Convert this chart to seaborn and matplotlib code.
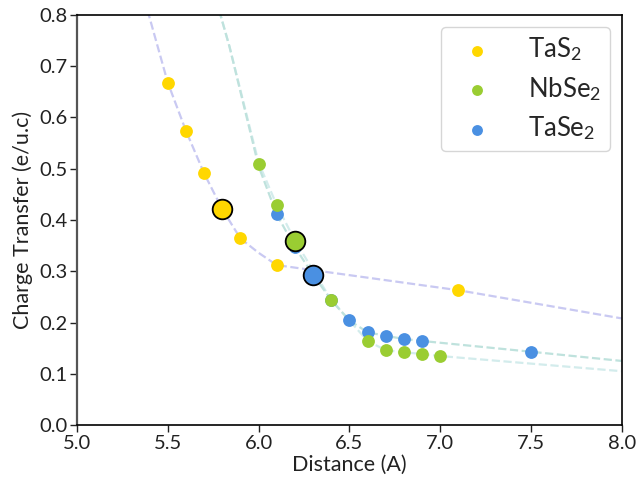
import matplotlib
matplotlib.use("Agg")
import matplotlib.pyplot as plt
import pandas as pd
import seaborn as sns

# ---- data ----
tas2_x = [5.5, 5.6, 5.7, 5.8, 5.9, 6.1, 7.1]
tas2_y = [0.668, 0.574, 0.491, 0.421, 0.364, 0.312, 0.263]
nbse2_x = [6.0, 6.1, 6.2, 6.4, 6.6, 6.7, 6.8, 6.9, 7.0]
nbse2_y = [0.509, 0.429, 0.360, 0.244, 0.164, 0.146, 0.142, 0.1385, 0.1346]
tase2_x = [6.1, 6.2, 6.3, 6.4, 6.5, 6.6, 6.7, 6.8, 6.9, 7.5]
tase2_y = [0.411, 0.347, 0.293, 0.244, 0.204, 0.181, 0.174, 0.168, 0.164, 0.143]

# highlighted points (x positions of the emphasised sample for each material)
hl_tas2_x = 5.8
hl_nbse2_x = 6.2
hl_tase2_x = 6.3

# dashed guide curves
tas2_fit_x = [5.36, 5.5, 5.6, 5.7, 5.8, 5.9, 6.0, 6.1, 7.1, 8.0]
tas2_fit_y = [0.845, 0.668, 0.574, 0.491, 0.421, 0.364, 0.336, 0.312, 0.263, 0.208]
nbse2_fit_x = [5.75, 5.84, 6.0, 6.1, 6.2, 6.4, 6.6, 6.7, 6.8, 6.9, 7.0, 8.0]
nbse2_fit_y = [0.85, 0.738, 0.512, 0.429, 0.360, 0.244, 0.164, 0.146, 0.142, 0.1385, 0.1346, 0.105]
tase2_fit_x = [5.75, 5.84, 6.0, 6.1, 6.2, 6.3, 6.4, 6.5, 6.6, 6.7, 6.8, 6.9, 7.5, 8.0]
tase2_fit_y = [0.85, 0.738, 0.505, 0.411, 0.347, 0.293, 0.244, 0.204, 0.181, 0.174, 0.168, 0.164, 0.143, 0.125]

labels = ["TaS$_2$", "NbSe$_2$", "TaSe$_2$"]
x_ticks = [5.0, 5.5, 6.0, 6.5, 7.0, 7.5, 8.0]
y_ticks = [0.0, 0.1, 0.2, 0.3, 0.4, 0.5, 0.6, 0.7, 0.8]

c_tas2 = "#ffd700"
c_nbse2 = "#9acd32"
c_tase2 = "#4a90e2"

sns.set_style("white")
plt.rcParams["font.family"] = ["Lato", "DejaVu Sans"]
plt.rcParams["mathtext.fontset"] = "custom"
plt.rcParams["mathtext.rm"] = "Lato"
plt.rcParams["mathtext.it"] = "Lato:italic"

fig = plt.figure(figsize=(6.39, 4.79), dpi=100)
ax = fig.add_axes([0.1205, 0.1127, 0.8525, 0.8560])

tas2 = pd.DataFrame({"x": tas2_x, "y": tas2_y})
nbse2 = pd.DataFrame({"x": nbse2_x, "y": nbse2_y})
tase2 = pd.DataFrame({"x": tase2_x, "y": tase2_y})

# guide curves
for fx, fy, col in [(tas2_fit_x, tas2_fit_y, "#c9c9f2"),
                    (nbse2_fit_x, nbse2_fit_y, "#d3ecec"),
                    (tase2_fit_x, tase2_fit_y, "#bfe2dd")]:
    sns.lineplot(x=fx, y=fy, ax=ax, color=col, linestyle="--", lw=1.6,
                 sort=False, estimator=None, zorder=1)

ms = 85
sns.scatterplot(data=tas2, x="x", y="y", ax=ax, color=c_tas2, s=ms, linewidth=0,
                label=labels[0], zorder=3)
sns.scatterplot(data=tase2, x="x", y="y", ax=ax, color=c_tase2, s=ms, linewidth=0,
                label=labels[2], zorder=3)
sns.scatterplot(data=nbse2, x="x", y="y", ax=ax, color=c_nbse2, s=ms, linewidth=0,
                label=labels[1], zorder=3)

big = 200
for df, hx, col in [(tas2, hl_tas2_x, c_tas2), (nbse2, hl_nbse2_x, c_nbse2),
                    (tase2, hl_tase2_x, c_tase2)]:
    sel = df[(df["x"] - hx).abs() < 1e-9]
    sns.scatterplot(data=sel, x="x", y="y", ax=ax, color=col, s=big,
                    edgecolor="black", linewidth=1.3, legend=False, zorder=4)

ax.set_xlim(5.0, 8.0)
ax.set_ylim(0.0, 0.8)
ax.set_xticks(x_ticks)
ax.set_yticks(y_ticks)
ax.set_xticklabels([f"{v:.1f}" for v in x_ticks])
ax.set_yticklabels([f"{v:.1f}" for v in y_ticks])
ax.tick_params(axis="both", which="both", direction="out", length=5, width=1,
               labelsize=14.5, colors="#222222", left=True, bottom=True,
               top=False, right=False, pad=2)
ax.set_xlabel("Distance (A)", fontsize=15.5, color="#222222", labelpad=2)
ax.set_ylabel("Charge Transfer (e/u.c)", fontsize=15.5, color="#222222", labelpad=4)

for side in ["top", "right", "bottom"]:
    ax.spines[side].set_color("black")
    ax.spines[side].set_linewidth(1.2)
ax.spines["left"].set_color("#555555")
ax.spines["left"].set_linewidth(1.6)

h, l = ax.get_legend_handles_labels()
order = [l.index(lab) for lab in labels]
leg = ax.legend([h[i] for i in order], [l[i] for i in order], loc="upper right",
                fontsize=18.5, frameon=True, fancybox=True, handlelength=2.15,
                handletextpad=0.9, labelspacing=0.45, borderpad=0.35,
                markerscale=0.85, borderaxespad=0.45)
leg.get_frame().set_edgecolor("#cccccc")
leg.get_frame().set_linewidth(1.0)

fig.savefig("out.png", dpi=100)
